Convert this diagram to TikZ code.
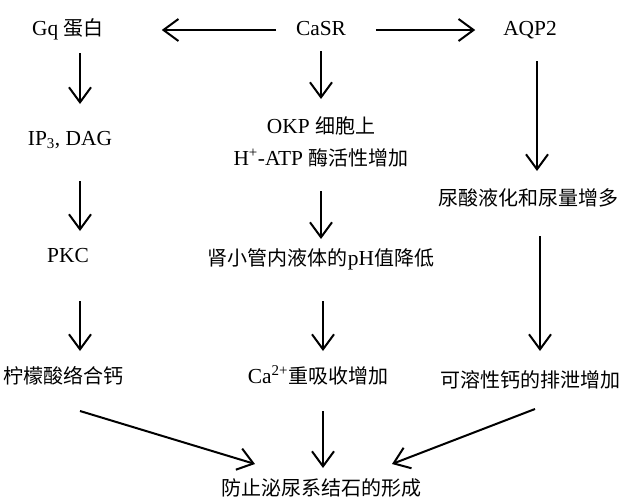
\documentclass[tikz,border=0pt]{standalone}
\usepackage{fontspec}
\setmainfont[Scale=1.07]{Liberation Serif}
\newfontfamily\zhfont{Noto Sans CJK SC}
\usepackage{tikz}
\usetikzlibrary{arrows.meta,positioning}

\begin{document}
\begin{tikzpicture}[->, >={Straight Barb[length=15pt,width=22pt]}, x=1pt, y=1pt, line width=2pt, node distance=110pt]
\tikzstyle{every node}=[font=\fontsize{20}{24}\selectfont, inner sep=0pt, text height=15pt, text depth=5pt]

\useasboundingbox (0,0) rectangle (621,-501);

\node (casr) at (321,-30)	{CaSR};
\node (gq) [left of=casr, node distance=253pt]	{Gq {\zhfont 蛋白}};
\node (aqp) [right of=casr, node distance=209pt]	{AQP2};
\node (ip) [below of=gq, xshift=2pt]	{IP\textsubscript{3}, DAG};
\node (okp) [below of=casr, node distance=98pt]	{OKP {\zhfont 细胞上}};
\node (atp) [below of=okp, node distance=32pt]	{H\textsuperscript{+}-ATP {\zhfont 酶活性增加}};
\node (uric) [below of=aqp, node distance=170pt, xshift=-2pt]	{\zhfont 尿酸液化和尿量增多};
\node (pkc) [below of=ip, node distance=117pt, xshift=-2pt]	{PKC};
\node (ph) [below of=atp, node distance=100pt]	{{\zhfont 肾小管内液体的}pH{\zhfont 值降低}};
\node (cit) [below of=pkc, node distance=121pt, xshift=-5pt]	{\zhfont 柠檬酸络合钙};
\node (ca) [below of=ph, node distance=118pt, xshift=-3pt]	{Ca\textsuperscript{2+}{\zhfont 重吸收增加}};
\node (sol) [below of=uric, node distance=182pt, xshift=2pt]	{\zhfont 可溶性钙的排泄增加};
\node (fin) [below of=ca, node distance=112pt, xshift=3pt]	{\zhfont 防止泌尿系结石的形成};

\path
	(casr) edge [shorten <=19pt, shorten >=57pt] (gq)
	(casr) edge [shorten <=29pt, shorten >=27pt] (aqp)
	([xshift=12pt]gq.south) edge [shorten <=12pt, shorten >=25pt] ([xshift=10pt]ip.north)
	(casr.south) edge [shorten <=10pt, shorten >=18pt] (okp.north)
	([xshift=7pt]aqp.south) edge [shorten <=20pt, shorten >=18pt] ([xshift=9pt]uric.north)
	([xshift=10pt]ip.south) edge [shorten <=30pt, shorten >=15pt] ([xshift=12pt]pkc.north)
	(atp.south) edge [shorten <=20pt, shorten >=10pt] (ph.north)
	([xshift=12pt]uric.south) edge [shorten <=25pt, shorten >=20pt] ([xshift=10pt]sol.north)
	([xshift=12pt]pkc.south) edge [shorten <=33pt, shorten >=16pt] ([xshift=17pt]cit.north)
	([xshift=2pt]ph.south) edge [shorten <=30pt, shorten >=16pt] ([xshift=5pt]ca.north)
	([xshift=17pt,yshift=-22pt]cit.south) edge ([xshift=-66pt,yshift=15pt]fin.north)
	([xshift=5pt]ca.south) edge [shorten <=22pt, shorten >=11pt] ([xshift=2pt]fin.north)
	([xshift=5pt,yshift=-16pt]sol.south) edge ([xshift=71pt,yshift=15pt]fin.north)
;

\end{tikzpicture}
\end{document}
